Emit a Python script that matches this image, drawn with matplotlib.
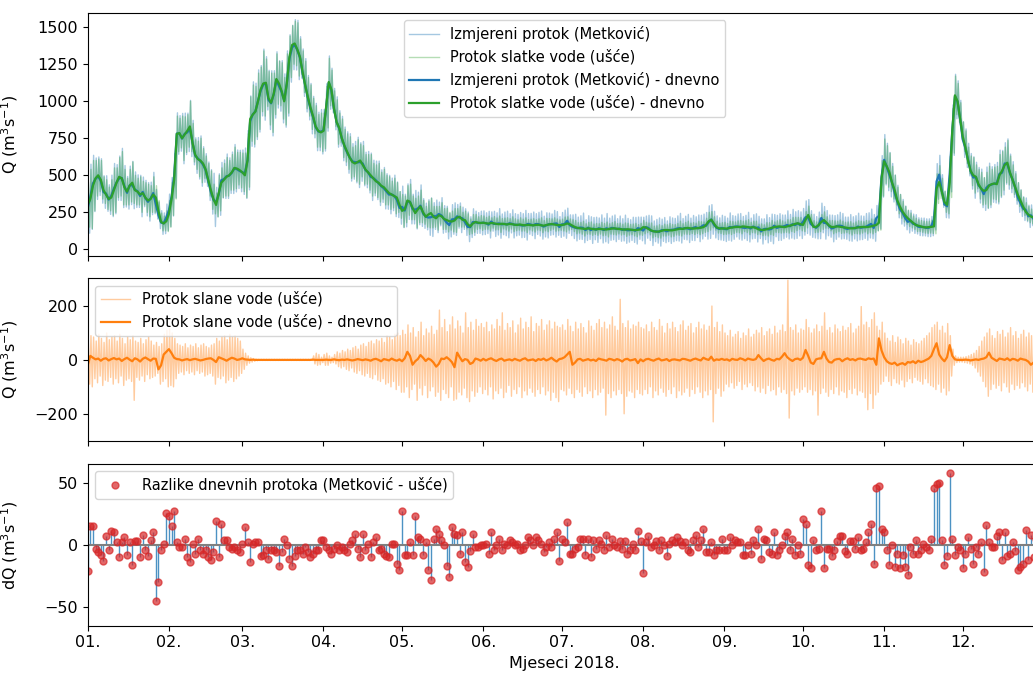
import numpy as np
import pandas as pd
import matplotlib
matplotlib.use("Agg")
import matplotlib.pyplot as plt
import matplotlib.dates as mdates

# ---------------- data ----------------
days = pd.date_range("2018-01-01", periods=365, freq="D")

# daily fresh-water discharge at the mouth (green daily line), m3/s
fresh_daily = [
    300, 340, 430, 480, 500, 470, 400, 370, 340, 350, 400, 450, 490, 480, 420, 390, 430, 450, 400, 390, 370, 380, 350, 330, 340, 370, 350, 260, 185, 175, 190,
    240, 340, 470, 780, 785, 750, 775, 800, 830, 720, 640, 610, 600, 580, 540, 470, 400, 340, 300, 380, 450, 470, 490, 500, 520, 550, 545, 535,
    520, 500, 600, 880, 910, 930, 1000, 1080, 1120, 1125, 1020, 990, 1050, 1150, 1120, 1070, 1000, 1120, 1300, 1380, 1390, 1350, 1300, 1200, 1110, 1030, 960, 900, 830, 800, 790,
    800, 960, 1130, 1080, 950, 860, 820, 750, 700, 660, 620, 590, 580, 590, 600, 570, 540, 520, 500, 480, 460, 450, 430, 420, 400, 380, 370, 360, 350, 300,
    260, 270, 330, 320, 280, 245, 270, 290, 250, 220, 235, 245, 220, 210, 230, 225, 205, 198, 190, 188, 195, 215, 220, 200, 198, 170, 155, 175, 185, 180, 178,
    180, 176, 174, 178, 176, 172, 170, 173, 171, 168, 172, 170, 166, 165, 168, 164, 163, 166, 164, 162, 165, 166, 163, 160, 164, 168, 171, 168, 165, 164,
    164, 168, 175, 170, 160, 150, 145, 142, 140, 138, 142, 140, 136, 135, 138, 137, 135, 134, 138, 140, 142, 139, 137, 135, 133, 136, 134, 131, 130, 132, 135,
    150, 148, 138, 128, 122, 119, 121, 125, 130, 131, 129, 128, 132, 135, 140, 138, 142, 145, 142, 140, 142, 144, 146, 150, 165, 190, 200, 175, 150, 142, 140,
    142, 140, 145, 148, 150, 152, 150, 155, 153, 150, 148, 150, 145, 135, 132, 131, 135, 140, 145, 150, 153, 155, 152, 150, 155, 160, 165, 172, 176, 170,
    165, 200, 232, 190, 153, 150, 165, 185, 198, 180, 160, 150, 152, 155, 153, 150, 148, 145, 142, 142, 145, 148, 150, 152, 150, 152, 155, 160, 165, 180, 480,
    595, 560, 520, 450, 400, 330, 290, 255, 230, 210, 195, 180, 165, 160, 155, 150, 148, 150, 152, 155, 410, 455, 390, 320, 300, 450, 800, 1040, 1000, 880,
    760, 690, 600, 530, 500, 490, 440, 410, 395, 400, 430, 440, 445, 440, 500, 530, 570, 585, 520, 470, 420, 370, 330, 290, 255, 235, 222, 215, 210, 205, 200,
]

# daily difference Metkovic - mouth (bottom panel), m3/s
dq_daily = [
    -21, 15, 15, -3, -6, -8, -13, 7, -4, 11, 10, 2, -10, 2, 6, -8, 2, -16, 3, 3, -10, 8, -4, -9, 4, 10, -45, -30, -4, 1, 26,
    23, 15, 27, 2, -2, -2, 5, -10, -14, 1, -7, 5, -4, -7, -4, -10, -12, -6, 19, -10, 17, 4, 4, -2, -3, -2, -4, -6,
    1, 14, 2, -14, 1, 2, 2, -9, -8, -4, -11, -4, -4, -6, -17, -6, 5, 0, -11, -17, -9, -4, -4, -7, -2, -6, -10, -7, -4, -4, 4,
    4, -2, -4, -7, -3, 0, -4, -2, -4, -6, 1, 4, 9, -3, -10, 9, -4, 1, -10, 2, 6, -4, -3, -7, -9, -10, 1, 1, -15, -20,
    27, -8, -8, 2, -8, 23, 6, 5, -8, 2, -20, -28, 5, 13, 9, 4, 0, -17, -26, 14, 9, 8, -7, 10, -14, -18, -5, 9, -2, -2, 0,
    0, 1, -7, 10, -4, 0, 5, -4, 1, 0, 4, 2, 0, 1, -4, -3, 0, 6, 4, 0, 6, 4, 1, -6, -2, 2, -2, 5, 10, -13,
    5, 2, 18, -7, -7, -3, -2, 5, 5, -8, 5, -10, 4, -3, 4, 1, -4, 8, -2, 5, 0, -2, 3, -3, 3, -7, -4, 1, -4, 11, 3,
    -23, 2, 7, -2, 0, 3, -4, 4, 0, -9, 1, 4, 2, 6, 3, 0, 2, -4, -6, 4, 8, -2, 4, 13, -6, -6, 2, -8, -4, -4, 5,
    -4, -4, 6, 0, 4, 2, 2, -8, -8, 0, -7, 4, 0, 13, -11, 5, 4, -6, -7, 10, -8, -4, 0, 7, 10, -4, 5, -8, 0, -7,
    21, 17, -16, -19, 4, -4, -3, 27, -19, -3, -3, -9, -4, 3, 7, 7, -5, -7, 3, 3, -3, 6, -4, -3, 2, 10, 17, -15, 46, 47, 13,
    10, -4, -16, 0, -18, -7, -19, -8, -18, -24, -2, -7, 4, -7, -4, 1, -2, -4, 5, 46, 49, 50, 4, -16, -9, 58, 5, -8, -2, -4,
    -19, -7, 6, -3, -15, -2, -7, 2, -22, 16, 2, -2, -2, 7, 10, -12, 10, -9, -7, 2, -5, -20, -18, -15, 12, -12, 8, -10, 5, -6, 3,
]

# daily salt-water discharge at the mouth (orange daily line), m3/s
salt_daily = [
    -20, 15, 8, 2, 5, -3, 4, 6, -2, 3, 7, 2, 5, -4, 3, 8, 1, -5, 6, 2, -6, 4, 9, 3, -3, 5, 4, -35, -20, 20, 30,
    40, 25, 8, 3, 2, -2, 1, 3, -1, 2, 4, 1, -2, 0, 3, 5, 6, 0, -8, 10, 6, 2, -3, 3, 8, 5, 0, 2,
    6, 2, 1, 0, 1, 0, 0, 0, 0, 0, 0, 0, 0, 0, 0, 0, 0, 0, 0, 0, 0, 0, 0, 0, 0, 0, 0, 1, 0, 0, 0,
    0, 1, 0, 0, 2, 0, -1, 1, 0, 2, 0, -2, 0, 3, 1, -1, 2, 0, -3, 2, 4, 0, -5, 3, 1, -2, 5, 0, -3, 2,
    -5, 6, 30, 15, -18, -5, 3, 18, 8, -4, 5, 0, -10, -25, -15, 5, 3, 10, 2, -8, -27, 27, 10, -5, 3, 0, -15, -10, 5, 2, -3,
    4, -2, 3, 6, 0, -4, 2, 5, -3, 0, 2, -2, 4, 0, -3, 3, 6, -2, 0, 2, -4, 3, 0, 5, -2, 2, 8, 0, -6, 3,
    5, 10, 20, 30, -18, -10, 2, 4, -3, 0, 3, -2, 1, -4, 5, 2, 0, -3, 4, 2, -2, 3, 0, -6, 2, 4, -2, 0, 3, -12, 2,
    -5, 2, 4, 0, -3, 2, 5, -2, 0, 3, -4, 1, 2, 0, -2, 4, 3, 0, -3, 2, 5, 1, -2, 8, 3, 0, 12, -3, 2, 0, 4,
    0, 2, -3, 4, 1, 0, 6, 3, -2, 5, 2, 0, 3, 18, 6, -4, 2, 5, 0, -3, 4, 2, 12, 25, 10, 2, -4, 3, 5, 0,
    8, 37, 15, -10, -15, 2, 5, 6, 30, 5, -8, -10, 0, 3, 4, -5, 2, 6, 0, 3, -2, 4, 5, 2, 0, 6, 3, 5, -18, 80, 35,
    10, -5, -12, -15, -10, -20, -15, -12, -18, -8, -10, -5, -12, -3, -8, -5, 0, 5, 15, 40, 62, 20, 5, -5, 10, 55, 15, 2, 0, 0,
    0, 1, 0, -2, 0, 2, 0, 3, 5, 10, 27, 8, 2, -4, 5, 3, 0, 6, -2, 4, 2, -3, 5, 2, 0, -6, -18, -10, 3, -5, 2,
]

# half-range of the sub-daily (tidal) oscillation of the fresh-water series (green light)
fresh_swing = [
    150, 200, 170, 120, 110, 130, 90, 100, 80, 120, 150, 100, 130, 180, 120, 90, 110, 140, 100, 90, 120, 80, 100, 110, 90, 120, 80, 70, 60, 50, 70,
    90, 110, 130, 120, 100, 150, 120, 110, 170, 130, 100, 120, 150, 100, 90, 110, 130, 100, 80, 120, 100, 110, 130, 100, 120, 140, 110, 120,
    130, 150, 180, 150, 200, 170, 190, 150, 220, 160, 180, 200, 140, 170, 150, 190, 160, 200, 140, 130, 150, 180, 120, 140, 160, 130, 150, 120, 140, 110, 130,
    120, 140, 160, 130, 120, 150, 100, 130, 110, 120, 140, 100, 120, 150, 110, 130, 100, 120, 140, 100, 110, 130, 90, 120, 100, 110, 90, 120, 100, 90,
    110, 90, 100, 120, 80, 100, 90, 110, 80, 70, 90, 100, 70, 80, 60, 90, 70, 80, 60, 70, 80, 60, 70, 50, 60, 70, 50, 60, 50, 40, 50,
    45, 40, 50, 35, 45, 40, 55, 35, 40, 45, 35, 50, 40, 35, 45, 40, 50, 35, 40, 45, 35, 40, 50, 35, 45, 40, 35, 45, 40, 35,
    40, 50, 45, 35, 40, 45, 35, 40, 50, 35, 40, 45, 35, 40, 35, 45, 40, 50, 35, 40, 45, 35, 40, 35, 45, 40, 35, 40, 45, 35, 40,
    45, 35, 40, 50, 35, 40, 45, 35, 40, 35, 45, 40, 35, 40, 50, 35, 40, 45, 35, 40, 35, 45, 40, 35, 45, 60, 55, 45, 40, 35, 40,
    40, 35, 45, 40, 35, 40, 45, 35, 40, 50, 35, 40, 45, 35, 40, 35, 45, 40, 50, 35, 40, 45, 40, 35, 45, 40, 50, 45, 40, 45,
    45, 55, 60, 45, 40, 35, 45, 50, 55, 40, 35, 45, 40, 35, 45, 40, 35, 40, 45, 35, 40, 45, 40, 35, 45, 40, 50, 45, 40, 50, 120,
    150, 140, 130, 110, 100, 90, 80, 70, 60, 55, 50, 45, 45, 40, 40, 40, 40, 40, 45, 50, 100, 110, 90, 70, 60, 100, 150, 130, 120, 110,
    100, 110, 90, 100, 120, 80, 100, 110, 90, 120, 130, 100, 110, 120, 140, 130, 120, 150, 110, 100, 90, 80, 70, 60, 60, 55, 50, 50, 45, 45, 40,
]

# half-range of the sub-daily oscillation of the measured series (blue light)
meas_swing = [
    170, 220, 190, 140, 130, 150, 110, 120, 100, 140, 170, 120, 150, 200, 140, 110, 130, 160, 120, 110, 140, 100, 120, 130, 110, 140, 100, 90, 80, 70, 90,
    110, 130, 150, 140, 120, 170, 140, 130, 190, 150, 120, 140, 170, 120, 110, 130, 150, 180, 100, 140, 120, 130, 150, 120, 140, 160, 130, 140,
    150, 170, 200, 170, 220, 190, 210, 170, 240, 180, 200, 220, 160, 190, 170, 210, 180, 220, 160, 150, 170, 200, 140, 160, 180, 150, 170, 140, 160, 130, 150,
    140, 160, 180, 150, 140, 170, 120, 150, 130, 140, 160, 120, 140, 170, 130, 150, 120, 140, 160, 120, 130, 150, 110, 140, 120, 130, 110, 140, 120, 110,
    140, 110, 120, 150, 100, 130, 110, 140, 100, 90, 120, 130, 90, 110, 80, 120, 90, 110, 80, 100, 110, 80, 100, 75, 90, 100, 70, 90, 75, 70, 80,
    80, 70, 90, 65, 85, 75, 100, 70, 80, 90, 65, 95, 75, 70, 85, 80, 100, 70, 75, 90, 70, 80, 95, 70, 85, 75, 70, 90, 80, 70,
    80, 95, 85, 70, 80, 90, 75, 80, 100, 70, 80, 90, 75, 85, 70, 95, 80, 100, 75, 80, 90, 70, 85, 75, 95, 80, 70, 85, 90, 75, 80,
    90, 75, 85, 100, 70, 80, 95, 75, 85, 70, 90, 80, 75, 85, 100, 70, 80, 95, 75, 85, 70, 90, 80, 75, 90, 110, 100, 90, 80, 75, 85,
    85, 75, 95, 80, 70, 85, 90, 75, 85, 100, 70, 80, 95, 75, 85, 70, 95, 80, 100, 75, 85, 90, 80, 75, 95, 80, 100, 90, 85, 90,
    90, 110, 120, 90, 80, 75, 90, 100, 110, 85, 75, 90, 80, 75, 90, 85, 75, 80, 90, 75, 85, 90, 80, 75, 90, 85, 100, 90, 85, 90, 140,
    170, 160, 150, 130, 120, 110, 100, 90, 80, 75, 70, 65, 65, 60, 60, 60, 60, 60, 65, 70, 120, 130, 110, 90, 80, 120, 170, 150, 140, 130,
    120, 130, 110, 120, 140, 100, 120, 130, 110, 140, 150, 120, 130, 140, 160, 150, 140, 170, 130, 120, 110, 100, 90, 80, 80, 75, 70, 70, 65, 65, 60,
]

# daily maximum / minimum of the sub-daily salt-water discharge (orange light)
salt_max = [
    60, 90, 85, 70, 95, 80, 65, 100, 75, 85, 90, 70, 95, 80, 60, 85, 75, 90, 70, 65, 80, 60, 75, 85, 70, 55, 65, 50, 60, 95, 110,
    115, 100, 80, 60, 55, 50, 60, 45, 55, 50, 60, 45, 55, 60, 50, 45, 55, 60, 80, 70, 85, 90, 75, 95, 85, 90, 80, 70,
    40, 25, 15, 8, 5, 3, 2, 2, 2, 2, 2, 2, 2, 2, 2, 2, 2, 2, 2, 2, 2, 2, 2, 2, 2, 2, 2, 15, 25, 20, 10,
    20, 25, 15, 10, 20, 30, 25, 35, 30, 40, 35, 45, 50, 40, 55, 60, 50, 65, 70, 60, 75, 70, 80, 65, 90, 85, 75, 95, 100, 90,
    110, 95, 130, 100, 120, 85, 105, 140, 90, 115, 100, 125, 95, 110, 185, 120, 150, 105, 130, 160, 115, 145, 125, 100, 175, 120, 140, 110, 150, 125, 135,
    120, 140, 105, 130, 115, 150, 125, 175, 110, 135, 120, 145, 100, 130, 155, 115, 140, 120, 160, 105, 135, 125, 150, 110, 130, 145, 115, 140, 125, 120,
    130, 110, 150, 125, 105, 140, 115, 135, 120, 100, 145, 125, 110, 135, 150, 120, 140, 115, 130, 160, 125, 110, 225, 135, 120, 145, 115, 130, 125, 140, 120,
    115, 130, 105, 140, 120, 110, 150, 125, 100, 135, 115, 140, 120, 105, 130, 145, 110, 125, 135, 100, 120, 140, 115, 130, 110, 125, 200, 120, 140, 105, 130,
    100, 90, 110, 85, 95, 105, 80, 100, 90, 115, 85, 95, 110, 100, 120, 90, 105, 115, 95, 125, 100, 110, 130, 105, 296, 120, 110, 130, 100, 115,
    110, 150, 120, 100, 115, 130, 105, 125, 175, 110, 120, 100, 130, 115, 105, 125, 110, 120, 135, 100, 115, 125, 198, 130, 140, 120, 150, 175, 125, 110, 140,
    100, 80, 70, 90, 65, 85, 75, 60, 80, 70, 55, 75, 65, 60, 70, 80, 90, 100, 120, 130, 140, 110, 125, 100, 135, 90, 40, 15, 10, 10,
    10, 12, 15, 20, 25, 35, 50, 70, 85, 100, 115, 90, 80, 105, 95, 110, 85, 100, 120, 90, 105, 80, 95, 110, 85, 100, 90, 105, 95, 110, 100,
]
salt_min = [
    -90, -100, -70, -85, -60, -95, -75, -80, -65, -90, -70, -85, -60, -95, -75, -70, -80, -150, -65, -75, -60, -80, -55, -70, -65, -60, -50, -90, -80, -70, -100,
    -95, -100, -70, -50, -45, -55, -40, -50, -45, -55, -40, -50, -45, -60, -55, -50, -60, -90, -65, -70, -60, -85, -75, -65, -80, -70, -60, -50,
    -35, -20, -12, -8, -5, -3, -2, -2, -2, -2, -2, -2, -2, -2, -2, -2, -2, -2, -2, -2, -2, -2, -2, -2, -2, -2, -2, -15, -20, -18, -10,
    -20, -20, -12, -10, -15, -25, -30, -25, -35, -40, -30, -45, -50, -40, -55, -60, -50, -65, -70, -55, -75, -80, -70, -90, -85, -100, -80, -110, -95, -120,
    -120, -100, -140, -110, -90, -150, -105, -130, -95, -140, -115, -100, -135, -120, -150, -110, -125, -140, -100, -150, -145, -120, -130, -105, -140, -155, -115, -135, -120, -100, -125,
    -110, -130, -100, -145, -115, -125, -105, -140, -120, -95, -135, -110, -125, -100, -140, -115, -130, -105, -120, -135, -110, -125, -100, -130, -115, -150, -120, -140, -155, -110,
    -115, -130, -105, -125, -140, -110, -120, -135, -100, -125, -115, -140, -110, -130, -120, -105, -205, -125, -140, -115, -130, -110, -125, -200, -135, -115, -120, -140, -110, -125, -130,
    -110, -125, -100, -140, -115, -130, -105, -120, -135, -110, -125, -100, -140, -115, -130, -120, -105, -135, -110, -125, -100, -120, -140, -115, -130, -110, -230, -125, -105, -135, -115,
    -90, -100, -85, -105, -95, -80, -110, -90, -100, -85, -95, -115, -100, -120, -105, -125, -95, -115, -110, -130, -100, -120, -110, -125, -216, -115, -130, -105, -120, -110,
    -100, -120, -110, -130, -115, -205, -125, -105, -120, -135, -110, -125, -100, -130, -115, -120, -140, -110, -125, -105, -130, -115, -120, -140, -185, -125, -180, -130, -120, -90, -80,
    -60, -80, -95, -70, -85, -90, -75, -100, -80, -70, -85, -65, -75, -80, -90, -70, -85, -95, -100, -110, -90, -120, -105, -130, -115, -60, -20, -10, -8, -8,
    -10, -12, -15, -20, -30, -45, -60, -80, -100, -135, -110, -90, -105, -95, -115, -85, -100, -120, -90, -110, -95, -105, -85, -100, -115, -90, -120, -100, -110, -95, -105,
]

q_ticks = [0, 250, 500, 750, 1000, 1250, 1500]
salt_ticks = [-200, 0, 200]
dq_ticks = [-50, 0, 50]

lbl_meas = "Izmjereni protok (Metković)"
lbl_fresh = "Protok slatke vode (ušće)"
lbl_meas_d = "Izmjereni protok (Metković) - dnevno"
lbl_fresh_d = "Protok slatke vode (ušće) - dnevno"
lbl_salt = "Protok slane vode (ušće)"
lbl_salt_d = "Protok slane vode (ušće) - dnevno"
lbl_dq = "Razlike dnevnih protoka (Metković - ušće)"
ylab_q = r"Q (m$^3$s$^{-1}$)"
ylab_dq = r"dQ (m$^3$s$^{-1}$)"
xlab = "Mjeseci 2018."

# ---------------- derived series ----------------
fresh_daily = np.asarray(fresh_daily, float)
dq_daily = np.asarray(dq_daily, float)
meas_daily = fresh_daily + dq_daily
salt_daily = np.asarray(salt_daily, float)

t_a = (days + pd.Timedelta(hours=6)).values
t_b = (days + pd.Timedelta(hours=18)).values
t_sub = np.empty(2 * len(days), dtype="datetime64[ns]")
t_sub[0::2] = t_a
t_sub[1::2] = t_b


def sub_daily(high, low):
    y = np.empty(2 * len(days))
    y[0::2] = high
    y[1::2] = low
    return y


meas_sub = sub_daily(meas_daily + np.asarray(meas_swing), meas_daily - np.asarray(meas_swing))
fresh_sub = sub_daily(fresh_daily + np.asarray(fresh_swing), fresh_daily - np.asarray(fresh_swing))
salt_sub = sub_daily(np.asarray(salt_max, float), np.asarray(salt_min, float))

# ---------------- figure ----------------
plt.rcParams["font.family"] = ["DejaVu Sans"]
fig = plt.figure(figsize=(10.33, 6.75), dpi=100)
L, W = 0.0849, 0.9232
ax1 = fig.add_axes([L, 0.6207, W, 0.3605])
ax2 = fig.add_axes([L, 0.3471, W, 0.2406], sharex=ax1)
ax3 = fig.add_axes([L, 0.0730, W, 0.2396], sharex=ax1)

# top panel
ax1.plot(t_sub, meas_sub, color="C0", alpha=0.4, lw=1.0, label=lbl_meas)
ax1.plot(t_sub, fresh_sub, color="C2", alpha=0.35, lw=1.0, label=lbl_fresh)
ax1.plot(days, meas_daily, color="C0", lw=1.6, label=lbl_meas_d)
ax1.plot(days, fresh_daily, color="C2", lw=1.6, label=lbl_fresh_d)
ax1.set_ylim(-45, 1598)
ax1.set_yticks(q_ticks)
ax1.set_ylabel(ylab_q)
ax1.legend(loc="upper center", fontsize=10.5)

# middle panel
ax2.plot(t_sub, salt_sub, color="C1", alpha=0.4, lw=1.0, label=lbl_salt)
ax2.plot(days, salt_daily, color="C1", lw=1.6, label=lbl_salt_d)
ax2.set_ylim(-300, 303)
ax2.set_yticks(salt_ticks)
ax2.set_ylabel(ylab_q)
ax2.legend(loc="upper left", fontsize=10.5)

# bottom panel
ax3.vlines(days, 0, dq_daily, color="C0", lw=1.0, alpha=0.8)
ax3.axhline(0, color="gray", lw=1.5)
ax3.plot(days, dq_daily, "o", color="C3", alpha=0.7, ms=5, label=lbl_dq)
ax3.set_ylim(-65, 65)
ax3.set_yticks(dq_ticks)
ax3.set_ylabel(ylab_dq)
ax3.set_xlabel(xlab)
ax3.legend(loc="upper left", fontsize=10.5)

ax1.set_xlim(pd.Timestamp("2018-01-01"), pd.Timestamp("2018-12-31"))
ax3.xaxis.set_major_locator(mdates.MonthLocator())
ax3.xaxis.set_major_formatter(mdates.DateFormatter("%m."))
for ax in (ax1, ax2):
    ax.tick_params(labelbottom=False)
for ax in (ax1, ax2, ax3):
    ax.tick_params(labelsize=11.5)
    ax.yaxis.label.set_size(11.5)
    ax.yaxis.set_label_coords(-0.0712, 0.5)
ax3.xaxis.label.set_size(11.5)

fig.savefig("out.png", dpi=100)
